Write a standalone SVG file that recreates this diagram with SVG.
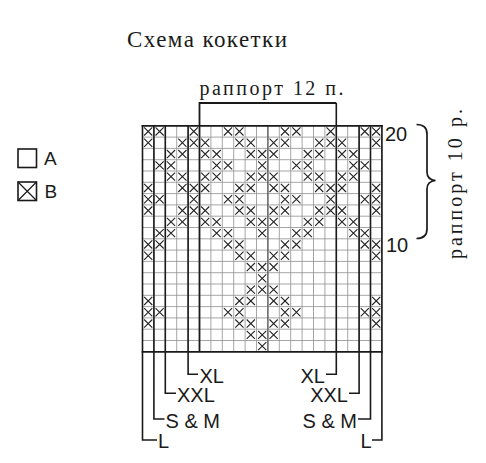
<svg xmlns="http://www.w3.org/2000/svg" xmlns:xlink="http://www.w3.org/1999/xlink" width="486" height="463" viewBox="0 0 486 463">
<style>
.serif{font-family:"Liberation Serif","Times New Roman",serif;fill:#1a1a1a}
.sans{font-family:"Liberation Sans",Arial,sans-serif;fill:#1a1a1a}
.grid{fill:none;stroke:#8f8f8f;stroke-width:0.8}
.bold{fill:none;stroke:#1a1a1a;stroke-width:1.8}
.lead{fill:none;stroke:#1a1a1a;stroke-width:1.6}
.xm{stroke:#222;stroke-width:1.1;fill:none}
</style>
<defs>
<path id="x" d="M1.6,1.6 L9.8,9.7 M9.8,1.6 L1.6,9.7"/>
<g id="rA" class="xm"><use href="#x" x="142.5"/><use href="#x" x="153.9"/><use href="#x" x="188.1"/><use href="#x" x="222.3"/><use href="#x" x="233.7"/><use href="#x" x="279.3"/><use href="#x" x="290.7"/><use href="#x" x="324.9"/><use href="#x" x="359.1"/><use href="#x" x="370.5"/></g>
<g id="rB" class="xm"><use href="#x" x="142.5"/><use href="#x" x="176.7"/><use href="#x" x="188.1"/><use href="#x" x="199.5"/><use href="#x" x="233.7"/><use href="#x" x="245.1"/><use href="#x" x="267.9"/><use href="#x" x="279.3"/><use href="#x" x="313.5"/><use href="#x" x="324.9"/><use href="#x" x="336.3"/><use href="#x" x="370.5"/></g>
<g id="rC" class="xm"><use href="#x" x="165.3"/><use href="#x" x="176.7"/><use href="#x" x="199.5"/><use href="#x" x="210.9"/><use href="#x" x="245.1"/><use href="#x" x="256.5"/><use href="#x" x="267.9"/><use href="#x" x="302.1"/><use href="#x" x="313.5"/><use href="#x" x="336.3"/><use href="#x" x="347.7"/></g>
<g id="rD" class="xm"><use href="#x" x="153.9"/><use href="#x" x="165.3"/><use href="#x" x="210.9"/><use href="#x" x="222.3"/><use href="#x" x="256.5"/><use href="#x" x="290.7"/><use href="#x" x="302.1"/><use href="#x" x="347.7"/><use href="#x" x="359.1"/></g>
<g id="rE" class="xm"><use href="#x" x="142.5"/><use href="#x" x="153.9"/><use href="#x" x="222.3"/><use href="#x" x="233.7"/><use href="#x" x="279.3"/><use href="#x" x="290.7"/><use href="#x" x="359.1"/><use href="#x" x="370.5"/></g>
<g id="rF" class="xm"><use href="#x" x="142.5"/><use href="#x" x="233.7"/><use href="#x" x="245.1"/><use href="#x" x="267.9"/><use href="#x" x="279.3"/><use href="#x" x="370.5"/></g>
<g id="rG" class="xm"><use href="#x" x="245.1"/><use href="#x" x="256.5"/><use href="#x" x="267.9"/></g>
<g id="rH" class="xm"><use href="#x" x="256.5"/></g>
</defs>
<rect width="486" height="463" fill="#fff"/>

<g id="title"><text class="serif" x="127" y="46.5" font-size="23" textLength="160" lengthAdjust="spacing">Схема кокетки</text></g>

<g id="legend">
<g id="legend-a"><rect x="18" y="149" width="18.5" height="18.5" fill="#fff" stroke="#1a1a1a" stroke-width="1.6"/><text class="sans" x="44" y="165" font-size="19">A</text></g>
<g id="legend-b"><rect x="18" y="182" width="18.5" height="18.5" fill="#fff" stroke="#1a1a1a" stroke-width="1.6"/><path d="M18,182 L36.5,200.5 M36.5,182 L18,200.5" stroke="#1a1a1a" stroke-width="1.2"/><text class="sans" x="44.5" y="198" font-size="19">B</text></g>
</g>

<g id="chart">
<path class="grid" d="M142.5 125.8V351.8M153.9 125.8V351.8M165.3 125.8V351.8M176.7 125.8V351.8M188.1 125.8V351.8M199.5 125.8V351.8M210.9 125.8V351.8M222.3 125.8V351.8M233.7 125.8V351.8M245.1 125.8V351.8M256.5 125.8V351.8M267.9 125.8V351.8M279.3 125.8V351.8M290.7 125.8V351.8M302.1 125.8V351.8M313.5 125.8V351.8M324.9 125.8V351.8M336.3 125.8V351.8M347.7 125.8V351.8M359.1 125.8V351.8M370.5 125.8V351.8M381.9 125.8V351.8M142.5 137.1H381.9M142.5 148.4H381.9M142.5 159.7H381.9M142.5 171H381.9M142.5 182.3H381.9M142.5 193.6H381.9M142.5 204.9H381.9M142.5 216.2H381.9M142.5 227.5H381.9M142.5 238.8H381.9M142.5 250.1H381.9M142.5 261.4H381.9M142.5 272.7H381.9M142.5 284H381.9M142.5 295.3H381.9M142.5 306.6H381.9M142.5 317.9H381.9M142.5 329.2H381.9M142.5 340.5H381.9"/>
<path d="M267.9 125.8V351.8" fill="none" stroke="#4a4a4a" stroke-width="1.1"/>
<g id="stitches">
<use href="#rA" y="125.8"/>
<use href="#rB" y="137.1"/>
<use href="#rC" y="148.4"/>
<use href="#rD" y="159.7"/>
<use href="#rC" y="171"/>
<use href="#rB" y="182.3"/>
<use href="#rA" y="193.6"/>
<use href="#rB" y="204.9"/>
<use href="#rC" y="216.2"/>
<use href="#rD" y="227.5"/>
<use href="#rE" y="238.8"/>
<use href="#rF" y="250.1"/>
<use href="#rG" y="261.4"/>
<use href="#rH" y="272.7"/>
<use href="#rG" y="284"/>
<use href="#rF" y="295.3"/>
<use href="#rE" y="306.6"/>
<use href="#rF" y="317.9"/>
<use href="#rG" y="329.2"/>
<use href="#rH" y="340.5"/>
</g>
<path class="bold" d="M141.6 125.8H382.8M141.6 351.8H382.8M199.5 351.8V103H336.3"/>
</g>

<g id="connectors">
<path class="lead" d="M142.5 125V440H157M153.9 125.8V419H164.5M165.3 125.8V393.3H176M188.1 125.8V374.3H198M336.3 103V374.3H326M359.1 125.8V393.3H349M370.5 125.8V419H358M381.9 125V440H372"/>
</g>

<g id="size-labels">
<text class="sans" x="199.5" y="382.5" font-size="20">XL</text>
<text class="sans" x="177" y="401.5" font-size="20">XXL</text>
<text class="sans" x="165.5" y="427.5" font-size="20">S &amp; M</text>
<text class="sans" x="158" y="448" font-size="20">L</text>
<text class="sans" x="325" y="382.5" font-size="20" text-anchor="end">XL</text>
<text class="sans" x="348" y="401.5" font-size="20" text-anchor="end">XXL</text>
<text class="sans" x="357" y="427.5" font-size="20" text-anchor="end">S &amp; M</text>
<text class="sans" x="371.5" y="448" font-size="20" text-anchor="end">L</text>
</g>

<g id="rapport-stitches"><text class="serif" x="199.5" y="95" font-size="20" textLength="144" lengthAdjust="spacing">раппорт 12 п.</text></g>

<g id="row-numbers">
<text class="sans" x="385" y="140.5" font-size="20">20</text>
<text class="sans" x="386" y="252" font-size="20">10</text>
</g>

<g id="rapport-rows">
<path d="M416.5,124.5 C424,124.5 427,128 427,134 L427,172 C427,177 430,180 435.5,180.5 C430,181 427,184 427,189 L427,229 C427,235 424,238.5 416.5,238.5" fill="none" stroke="#1a1a1a" stroke-width="1.7"/>
<text class="serif" transform="translate(462,184) rotate(-90)" x="0" y="0" font-size="20" text-anchor="middle" textLength="150" lengthAdjust="spacing">раппорт 10 р.</text>
</g>
</svg>
